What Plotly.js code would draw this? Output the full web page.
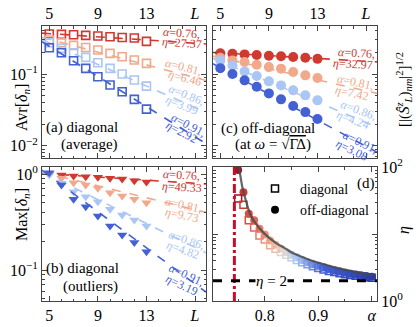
<!DOCTYPE html>
<html>
<head>
<meta charset="utf-8">
<script src="https://cdn.plot.ly/plotly-3.0.1.min.js"></script>
<style>html,body{margin:0;padding:0;background:#fff}</style>
</head>
<body>
<div id="chart" style="width:416px;height:327px"></div>
<script>
// system sizes L and the four alpha values
const L = [5, 6, 7, 8, 9, 10, 11, 12, 13];
const alphaTxt = ['0.76', '0.81', '0.86', '0.91'];
const colors = ['#d0392f', '#f2a88b', '#a9c6f5', '#4461d4'];
const fitL = [4.4, 17.9];

// (a) Avr[delta_n]
const avrA = [
  [0.361, 0.357, 0.354, 0.346, 0.339, 0.332, 0.324, 0.318, 0.286],
  [0.298, 0.273, 0.251, 0.235, 0.216, 0.194, 0.174, 0.157, 0.141],
  [0.273, 0.228, 0.198, 0.171, 0.144, 0.120, 0.100, 0.0825, 0.068],
  [0.233, 0.198, 0.153, 0.120, 0.0918, 0.0703, 0.0568, 0.0444, 0.0325]
];
const fitA = [[0.372, 0.263], [0.324, 0.0813], [0.303, 0.0291], [0.282, 0.0107]];
const etaA = ['27.37', '6.46', '3.99', '2.92'];

// (b) Max[delta_n]
const maxB = [
  [1.0, 0.977, 0.953, 0.938, 0.923, 0.902, 0.887, 0.851, 0.826],
  [1.0, 0.902, 0.813, 0.767, 0.710, 0.638, 0.590, 0.545, 0.502],
  [0.977, 0.800, 0.655, 0.581, 0.515, 0.429, 0.374, 0.332, 0.287],
  [1.03, 0.767, 0.545, 0.457, 0.365, 0.287, 0.232, 0.193, 0.155]
];
const fitB = [[1.016, 0.787], [1.047, 0.398], [1.047, 0.151], [1.096, 0.0589]];
const etaB = ['49.33', '9.73', '4.82', '3.19'];

// (c) off-diagonal
const offC = [
  [0.195, 0.192, 0.188, 0.184, 0.180, 0.177, 0.173, 0.169, 0.163],
  [0.169, 0.155, 0.147, 0.135, 0.125, 0.119, 0.107, 0.0959, 0.0879],
  [0.155, 0.132, 0.109, 0.0938, 0.0791, 0.0695, 0.0593, 0.0505, 0.0430],
  [0.121, 0.100, 0.0817, 0.0665, 0.0538, 0.0444, 0.0358, 0.0295, 0.0236]
];
const fitC = [[0.200, 0.148], [0.178, 0.0537], [0.166, 0.0182], [0.139, 0.00813]];
const etaC = ['32.97', '7.42', '4.24', '3.08'];

// (d) eta vs alpha
const alphaD = [0.75, 0.76, 0.77, 0.78, 0.79, 0.80, 0.81, 0.82, 0.83, 0.84, 0.85, 0.86, 0.87,
  0.88, 0.89, 0.90, 0.91, 0.92, 0.93, 0.94, 0.95, 0.96, 0.97, 0.98, 0.99, 1.00];
const etaDiag = [34, 27.4, 16, 12.5, 9.5, 8.3, 6.8, 6.0, 5.4, 4.9, 4.5, 4.1, 3.8,
  3.55, 3.3, 3.1, 2.95, 2.8, 2.7, 2.6, 2.5, 2.45, 2.38, 2.32, 2.27, 2.22];
const etaOff = [90, 42, 20, 16, 12, 9.8, 8.0, 6.9, 6.1, 5.4, 4.9, 4.5, 4.1,
  3.8, 3.55, 3.35, 3.15, 3.0, 2.85, 2.75, 2.65, 2.55, 2.48, 2.42, 2.36, 2.3];
const curveAlpha = [0.7515, 0.755, 0.758, 0.7625, 0.767, 0.772, 0.78, 0.79, 0.805, 0.822, 0.838,
  0.853, 0.87, 0.884, 0.90, 0.916, 0.93, 0.947, 0.962, 0.978, 0.99, 1.003];
const curveEta = [100, 68, 50, 36, 27, 20.4, 15.5, 12.2, 9.2, 7.26, 6.1,
  5.15, 4.55, 4.09, 3.72, 3.45, 3.2, 2.97, 2.8, 2.64, 2.53, 2.44];
const alphaC = 0.743;
const etaLine = 2;

const serif = '"Liberation Serif", "Times New Roman", "DejaVu Serif", serif';
const px = v => v / 416, py = v => 1 - v / 327;
const coolwarm = [[0, '#a50f1f'], [0.04, '#d0392f'], [0.24, '#f2a88b'], [0.34, '#e6dcd6'],
  [0.44, '#a9c6f5'], [0.64, '#4461d4'], [1, '#2a3aa6']];

const traces = [];
function panel(xa, ya, vals, fits, symbol, size, open) {
  vals.forEach((v, i) => {
    traces.push({x: fitL, y: fits[i], xaxis: xa, yaxis: ya, mode: 'lines', hoverinfo: 'skip',
      line: {color: colors[i], dash: 'dash', width: 1.6}, showlegend: false});
    traces.push({x: L, y: v, xaxis: xa, yaxis: ya, mode: 'markers', showlegend: false,
      marker: open ? {symbol: symbol, size: size, color: colors[i], line: {width: 1.6, color: colors[i]}}
                   : {symbol: symbol, size: size, color: colors[i], line: {width: 0}}});
  });
}
panel('x', 'y', avrA, fitA, 'square-open', 8, true);
panel('x2', 'y2', offC, fitC, 'circle', 10, false);
panel('x3', 'y3', maxB, fitB, 'triangle-down', 9, false);

traces.push({x: alphaD, y: etaOff, xaxis: 'x4', yaxis: 'y4', mode: 'markers', showlegend: false,
  marker: {symbol: 'circle', size: 8, color: alphaD, colorscale: coolwarm, cmin: 0.75, cmax: 1.0}});
traces.push({x: alphaD, y: etaDiag, xaxis: 'x4', yaxis: 'y4', mode: 'markers', showlegend: false,
  marker: {symbol: 'square-open', size: 7, color: alphaD, colorscale: coolwarm, cmin: 0.75, cmax: 1.0,
    line: {width: 1.5}}});
traces.push({x: curveAlpha, y: curveEta, xaxis: 'x4', yaxis: 'y4', mode: 'lines', showlegend: false,
  line: {color: '#4a4a4a', width: 2.2, shape: 'spline'}, opacity: 0.85});
traces.push({x: [null], y: [null], xaxis: 'x4', yaxis: 'y4', mode: 'markers', name: 'diagonal',
  marker: {symbol: 'square-open', size: 7, color: '#000', line: {width: 1.5}}});
traces.push({x: [null], y: [null], xaxis: 'x4', yaxis: 'y4', mode: 'markers', name: 'off-diagonal',
  marker: {symbol: 'circle', size: 8, color: '#000'}});

const dL = [px(42), px(206)], dR = [px(213), px(377)];
const dT = [py(158), py(26)], dB = [py(301), py(167)];
const tickFont = {family: serif, size: 16, color: '#000'};
const base = {showline: true, linecolor: '#444', linewidth: 1, mirror: 'allticks', ticks: 'inside',
  ticklen: 5, tickcolor: '#444', showgrid: false, zeroline: false, tickfont: tickFont};
const minorL = [];
for (let k = 5; k <= 17; k++) minorL.push(k);
const xL = Object.assign({}, base, {range: fitL, tickmode: 'array', tickvals: [5, 9, 13, 17],
  ticktext: ['5', '9', '13', '<i>L</i>'], minor: {tickvals: minorL, ticks: 'inside', ticklen: 2.5, tickcolor: '#444'}});
function logMinor(lo, hi) {
  const out = [];
  for (let e = lo; e < hi; e++) for (let m = 2; m <= 9; m++) out.push(m * Math.pow(10, e));
  return out;
}
const yAC = {type: 'log', range: [-2.17, -0.33], minor: {tickvals: logMinor(-3, 0), ticks: 'inside', ticklen: 2.5, tickcolor: '#444'}};

const layout = {
  width: 416, height: 327, margin: {l: 0, r: 0, t: 0, b: 0},
  paper_bgcolor: '#fff', plot_bgcolor: '#fff', font: {family: serif, color: '#000'},
  xaxis: Object.assign({}, xL, {domain: dL, anchor: 'y', side: 'top'}),
  xaxis2: Object.assign({}, xL, {domain: dR, anchor: 'y2', side: 'top'}),
  xaxis3: Object.assign({}, xL, {domain: dL, anchor: 'y3', side: 'bottom'}),
  xaxis4: Object.assign({}, base, {domain: dR, anchor: 'y4', range: [0.703, 1.01], tickmode: 'array',
    tickvals: [0.8, 0.9, 1.0], ticktext: ['0.8', '0.9', '<i>α</i>'],
    minor: {tickvals: [0.75, 0.85, 0.95], ticks: 'inside', ticklen: 2.5, tickcolor: '#444'}}),
  yaxis: Object.assign({}, base, yAC, {domain: dT, anchor: 'x', tickmode: 'array', tickvals: [0.1, 0.01],
    ticktext: ['10<sup>−1</sup>', '10<sup>−2</sup>']}),
  yaxis2: Object.assign({}, base, yAC, {domain: dT, anchor: 'x2', tickmode: 'array', tickvals: [0.1, 0.01],
    showticklabels: false}),
  yaxis3: Object.assign({}, base, {type: 'log', range: [-1.323, 0.073], domain: dB, anchor: 'x3',
    tickmode: 'array', tickvals: [1, 0.1], ticktext: ['10<sup>0</sup>', '10<sup>−1</sup>'],
    minor: {tickvals: logMinor(-2, 0), ticks: 'inside', ticklen: 2.5, tickcolor: '#444'}}),
  yaxis4: Object.assign({}, base, {type: 'log', range: [0, 2], domain: dB, anchor: 'x4', side: 'right',
    tickmode: 'array', tickvals: [1, 10, 100], ticktext: ['10<sup>0</sup>', '', '10<sup>2</sup>'],
    minor: {tickvals: logMinor(0, 2), ticks: 'inside', ticklen: 2.5, tickcolor: '#444'}}),
  showlegend: true,
  legend: {x: px(250), y: py(173), xanchor: 'left', yanchor: 'top', bgcolor: 'rgba(0,0,0,0)',
    font: {family: serif, size: 14, color: '#000'}, tracegroupgap: 0, itemwidth: 40},
  shapes: [
    {type: 'line', xref: 'x4', yref: 'y4 domain', x0: alphaC, x1: alphaC, y0: 0, y1: 1,
      line: {color: '#c0102a', width: 3, dash: 'dashdot'}},
    {type: 'line', xref: 'x4 domain', yref: 'y4', x0: 0, x1: 1, y0: etaLine, y1: etaLine,
      line: {color: '#000', width: 3, dash: 'dash'}}
  ],
  annotations: []
};

const ann = layout.annotations;
function txt(x, y, text, size, extra) {
  ann.push(Object.assign({xref: 'paper', yref: 'paper', x: px(x), y: py(y), text: text, showarrow: false,
    xanchor: 'center', yanchor: 'middle', font: {family: serif, size: size, color: '#000'}}, extra || {}));
}
// fit labels
const angA = [4, 14, 22, 28], angB = [3, 12, 19, 25], angC = [3, 12, 20, 26];
const posA = [[181.7, 33.3, 181.7, 43.3], [183.3, 66.7, 185, 78.3], [186.7, 95, 181.7, 105], [188.3, 125, 181.7, 131.7]];
const posB = [[181.7, 175, 181.7, 186.7], [183.3, 205, 181.7, 215], [186.7, 240, 183.3, 250], [186.7, 275, 181.7, 285]];
const posC = [[356.7, 53.3, 353.3, 64], [355, 81.7, 351.7, 93.3], [358.3, 110, 353.3, 120], [360, 141.7, 351.7, 150]];
function fitLabels(pos, eta, ang) {
  pos.forEach((p, i) => {
    txt(p[0], p[1], '<i>α</i>=' + alphaTxt[i] + ',', 12, {textangle: ang[i], font: {family: serif, size: 12, color: colors[i]}});
    txt(p[2], p[3], '<i>η</i>=' + eta[i], 12, {textangle: ang[i], font: {family: serif, size: 12, color: colors[i]}});
  });
}
fitLabels(posA, etaA, angA);
fitLabels(posB, etaB, angB);
fitLabels(posC, etaC, angC);

txt(82, 127, '(a) diagonal', 15);
txt(89, 145, '(average)', 15);
txt(82, 268, '(b) diagonal', 15);
txt(90, 286.7, '(outliers)', 15);
txt(267.5, 128.3, '(c) off-diagonal', 15);
txt(273, 144, '(at <i>ω</i> = √<span style="text-decoration:overline">ΓΔ</span>)', 15);
txt(366, 183, '(d)', 15);
txt(22, 108, 'Avr[<i>δ<sub>n</sub></i>]', 16, {textangle: -90});
txt(22, 215, 'Max[<i>δ<sub>n</sub></i>]', 16, {textangle: -90});
txt(404, 90, '[|(<i>Ŝ</i><sup><i>z</i></sup><sub><i>L</i></sub>)<sub><i>nm</i></sub>|<sup>2</sup>]<sup>1/2</sup>', 15, {textangle: -90});
txt(404, 230, '<i>η</i>', 16, {textangle: -90});
ann.push({xref: 'x4', yref: 'y4', x: 0.812, y: Math.log10(etaLine), text: '<i>η</i> = 2', showarrow: false,
  bgcolor: '#fff', font: {family: serif, size: 15, color: '#000'}, borderpad: 0});

Plotly.newPlot('chart', traces, layout, {staticPlot: true, displayModeBar: false});
</script>
</body>
</html>
